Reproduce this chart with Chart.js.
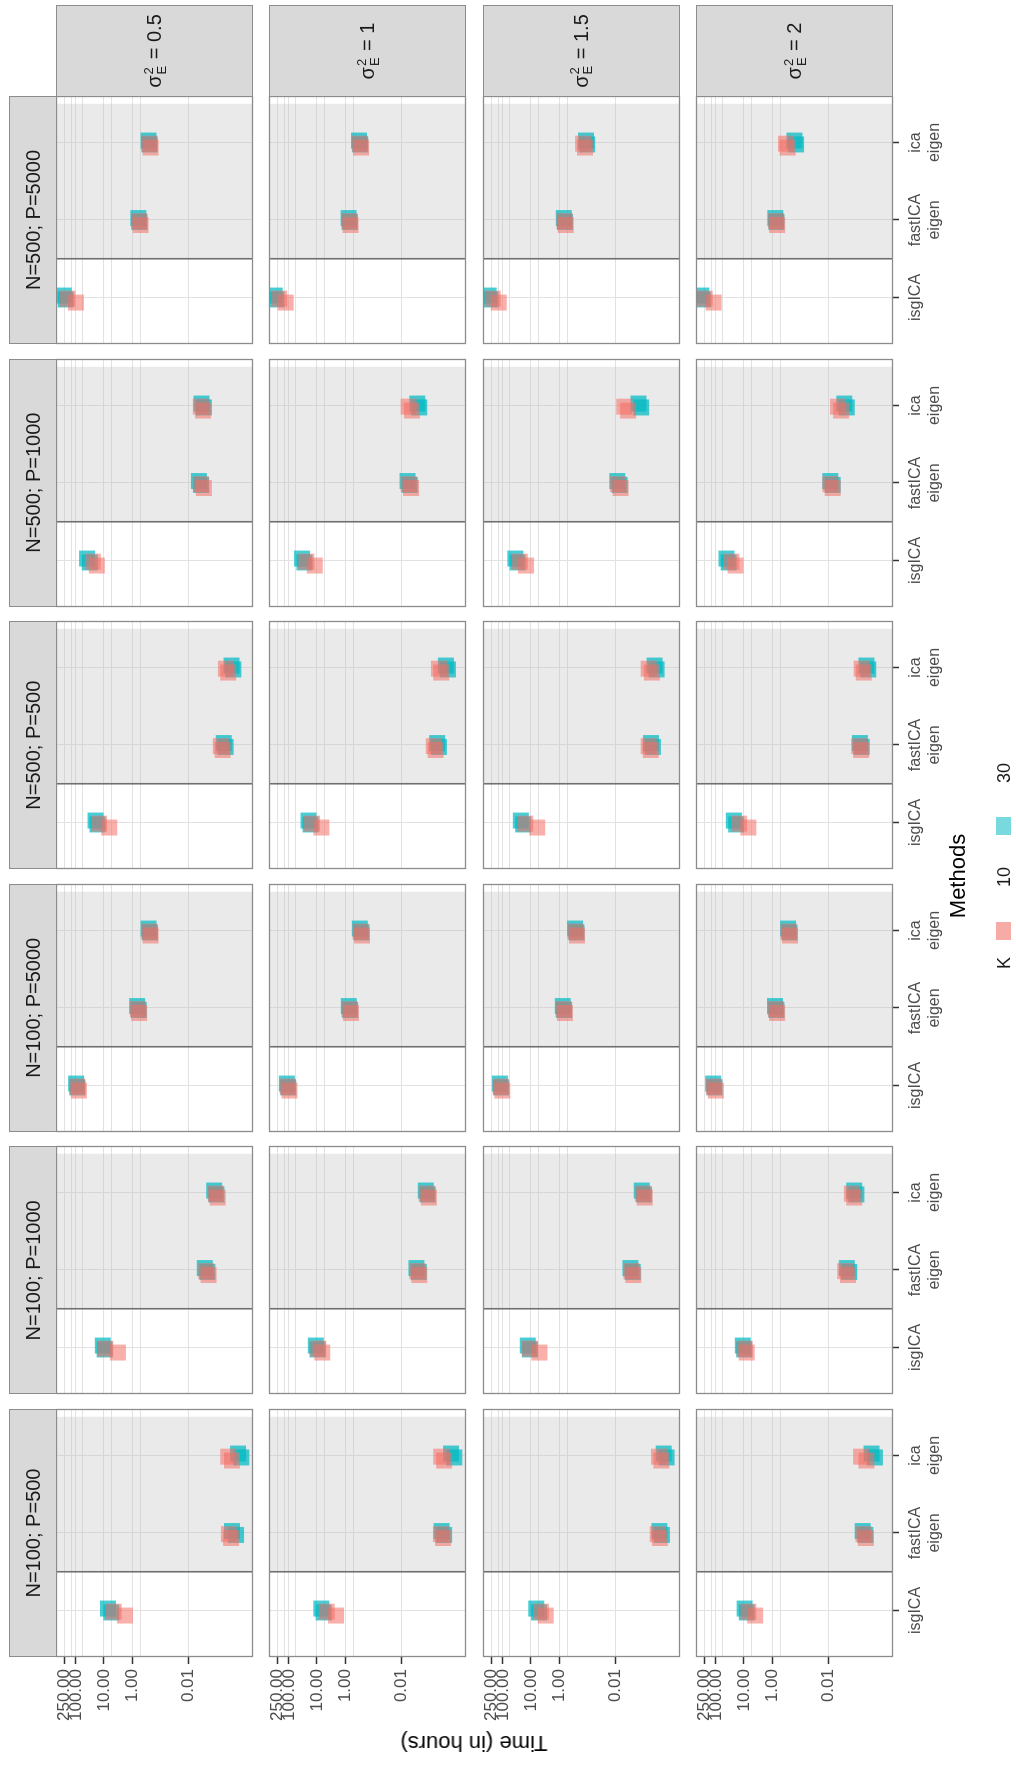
<!DOCTYPE html>
<html>
<head>
<meta charset="utf-8">
<title>Computation time by method</title>
<script src="https://cdn.jsdelivr.net/npm/chart.js@4.4.1/dist/chart.umd.min.js"></script>
<style>
  html, body { margin: 0; padding: 0; background: #ffffff; }
  body { width: 1016px; height: 1769px; overflow: hidden; position: relative;
         font-family: "Liberation Sans", Arial, sans-serif; }
  /* the figure is laid out in landscape and turned a quarter turn */
  #figure { position: absolute; left: 0; top: 0; width: 1769px; height: 1016px;
            transform-origin: 0 0; transform: translateY(1769px) rotate(-90deg); }
  #figure canvas { position: absolute; }
  .strip { position: absolute; box-sizing: border-box; background: #d9d9d9;
           border: 1px solid #8c8c8c; display: flex; align-items: center;
           justify-content: center; color: #1a1a1a; font-size: 20px; white-space: nowrap; }
  .stack { display: inline-flex; flex-direction: column; font-size: 13px;
           line-height: 13px; margin: 0 1px; vertical-align: middle; }
  .title { position: absolute; color: #000; font-size: 22px; white-space: nowrap; }
  .legend-key { position: absolute; width: 18px; height: 15px; }
  .legend-text { position: absolute; font-size: 18px; color: #1a1a1a; white-space: nowrap; }
</style>
</head>
<body>
<div id="figure"></div>
<script>
// ---- categories and tick labels ----
const designs = ['N=100; P=500', 'N=100; P=1000', 'N=100; P=5000',
                 'N=500; P=500', 'N=500; P=1000', 'N=500; P=5000'];
const sigmaLevels = ['0.5', '1', '1.5', '2'];
const methods = ['isgICA', 'fastICA eigen', 'ica eigen'];
const methodTickLabels = [['isgICA'], ['fastICA', 'eigen'], ['ica', 'eigen']];
const timeBreaks = [250, 100, 10, 1, 0.01];
const timeBreakLabels = ['250.00', '100.00', '10.00', '1.00', '0.01'];
const timeGuides = [250, 140, 100, 56, 10, 5.6, 1, 0.52, 0.01];
const kLevels = ['10', '30'];

// ---- run times in hours: [sigma][method][replicate] ----
const hoursK10_N100_P500 = [
  [[4.5, 1.8], [3.6e-4, 3.0e-4], [3.8e-4, 2.8e-4]],
  [[4.5, 2.1], [3.9e-4, 3.3e-4], [3.8e-4, 3.0e-4]],
  [[4.4, 3.0], [3.1e-4, 2.6e-4], [2.8e-4, 2.3e-4]],
  [[7.0, 4.0], [5.6e-4, 4.6e-4], [6.8e-4, 4.4e-4]]
];
const hoursK30_N100_P500 = [
  [[7.2, 5.5], [2.8e-4, 2.0e-4], [1.7e-4, 1.3e-4]],
  [[7.0, 5.8], [3.7e-4, 3.0e-4], [1.7e-4, 1.3e-4]],
  [[6.5, 5.2], [2.7e-4, 2.2e-4], [1.9e-4, 1.5e-4]],
  [[9.5, 8.0], [6.0e-4, 4.8e-4], [2.9e-4, 2.2e-4]]
];
const hoursK10_N100_P1000 = [
  [[9.0, 3.2], [2.3e-3, 1.9e-3], [1.05e-3, 0.9e-3]],
  [[9.0, 6.5], [2.7e-3, 2.3e-3], [1.25e-3, 1.05e-3]],
  [[11, 5.0], [2.7e-3, 2.3e-3], [1.05e-3, 0.9e-3]],
  [[9.5, 8.0], [2.5e-3, 2.0e-3], [1.45e-3, 1.2e-3]]
];
const hoursK30_N100_P1000 = [
  [[11, 9.5], [2.6e-3, 2.1e-3], [1.2e-3, 1.0e-3]],
  [[11, 9.6], [2.9e-3, 2.4e-3], [1.35e-3, 1.15e-3]],
  [[13, 11], [2.9e-3, 2.4e-3], [1.15e-3, 0.95e-3]],
  [[11, 9.8], [2.2e-3, 1.8e-3], [1.2e-3, 1.0e-3]]
];
const hoursK10_N100_P5000 = [
  [[90, 78], [0.62, 0.56], [0.25, 0.22]],
  [[110, 95], [0.70, 0.62], [0.28, 0.25]],
  [[120, 105], [0.70, 0.62], [0.26, 0.23]],
  [[118, 100], [0.74, 0.66], [0.26, 0.23]]
];
const hoursK30_N100_P5000 = [
  [[98, 88], [0.66, 0.58], [0.26, 0.23]],
  [[118, 105], [0.74, 0.66], [0.30, 0.26]],
  [[128, 115], [0.74, 0.66], [0.27, 0.24]],
  [[125, 112], [0.79, 0.70], [0.27, 0.24]]
];
const hoursK10_N500_P500 = [
  [[15, 6.5], [7.0e-4, 6.0e-4], [4.6e-4, 3.8e-4]],
  [[15, 7.0], [7.0e-4, 6.0e-4], [4.6e-4, 3.8e-4]],
  [[16, 6.0], [6.5e-4, 5.5e-4], [6.5e-4, 5.0e-4]],
  [[15, 7.0], [8.0e-4, 6.8e-4], [6.5e-4, 5.5e-4]]
];
const hoursK30_N500_P500 = [
  [[20, 17], [5.5e-4, 4.7e-4], [2.9e-4, 2.5e-4]],
  [[20, 17], [5.3e-4, 4.6e-4], [2.6e-4, 2.2e-4]],
  [[23, 19], [5.4e-4, 4.6e-4], [4.0e-4, 3.4e-4]],
  [[23, 19], [7.5e-4, 6.5e-4], [4.4e-4, 3.8e-4]]
];
const hoursK10_N500_P1000 = [
  [[25, 18], [3.6e-3, 2.8e-3], [3.6e-3, 3.0e-3]],
  [[24, 12], [5.5e-3, 4.5e-3], [5.5e-3, 4.2e-3]],
  [[25, 15], [8.0e-3, 6.5e-3], [4.8e-3, 3.5e-3]],
  [[28, 20], [8.5e-3, 7.0e-3], [4.5e-3, 3.5e-3]]
];
const hoursK30_N500_P1000 = [
  [[40, 32], [4.2e-3, 3.5e-3], [3.4e-3, 2.8e-3]],
  [[34, 28], [6.0e-3, 5.0e-3], [2.7e-3, 2.3e-3]],
  [[36, 30], [8.5e-3, 7.0e-3], [1.5e-3, 1.2e-3]],
  [[42, 35], [8.5e-3, 7.0e-3], [2.7e-3, 2.2e-3]]
];
const hoursK10_N500_P5000 = [
  [[200, 100], [0.56, 0.50], [0.24, 0.22]],
  [[220, 130], [0.70, 0.64], [0.30, 0.27]],
  [[230, 140], [0.64, 0.58], [0.14, 0.12]],
  [[250, 120], [0.72, 0.66], [0.32, 0.28]]
];
const hoursK30_N500_P5000 = [
  [[270, 230], [0.60, 0.55], [0.26, 0.24]],
  [[320, 280], [0.75, 0.68], [0.32, 0.29]],
  [[320, 280], [0.68, 0.62], [0.11, 0.10]],
  [[330, 290], [0.77, 0.70], [0.16, 0.14]]
];

const hoursK10 = [hoursK10_N100_P500, hoursK10_N100_P1000, hoursK10_N100_P5000,
                  hoursK10_N500_P500, hoursK10_N500_P1000, hoursK10_N500_P5000];
const hoursK30 = [hoursK30_N100_P500, hoursK30_N100_P1000, hoursK30_N100_P5000,
                  hoursK30_N500_P500, hoursK30_N500_P1000, hoursK30_N500_P5000];

// ---- look ----
const kColours = ['rgba(244,110,101,0.55)', 'rgba(0,186,194,0.72)'];
const kLegendColours = ['#f7aba6', '#78dadd'];
const kShift = [-0.04, 0];           // small vertical dodge of the K groups
const repShift = [0.025, -0.025];    // replicate spread within a group
const FONT = '"Liberation Sans", Arial, sans-serif';

// panel geometry in the landscape frame
const PANEL_W = 248, PANEL_H = 197;
const COL_X0 = 112, COL_STEP = 262.6;
const ROW_Y0 = 56, ROW_STEP = 213.4;
const LEFT_AXIS = 104, BOTTOM_AXIS = 70;
const MARGIN = 22;                   // spare room around every plotting area

const figure = document.getElementById('figure');

const panelDecor = {
  id: 'panelDecor',
  beforeDatasetsDraw(chart) {
    const { ctx, chartArea: a, scales: { x } } = chart;
    const x0 = x.getPixelForValue(1.5), x1 = x.getPixelForValue(3.5);
    ctx.save();
    ctx.fillStyle = 'rgba(185,185,185,0.3)';
    ctx.fillRect(x0, a.top, x1 - x0, a.bottom - a.top);
    ctx.strokeStyle = '#6f6f6f';
    ctx.lineWidth = 1.6;
    ctx.beginPath();
    ctx.moveTo(x0, a.top);
    ctx.lineTo(x0, a.bottom);
    ctx.stroke();
    ctx.restore();
  },
  afterDatasetsDraw(chart) {
    const { ctx, chartArea: a } = chart;
    ctx.save();
    ctx.strokeStyle = '#8c8c8c';
    ctx.lineWidth = 1.3;
    ctx.strokeRect(a.left + 0.5, a.top + 0.5, a.right - a.left - 1, a.bottom - a.top - 1);
    ctx.restore();
  }
};

function pointsFor(table, k) {
  const pts = [];
  table.forEach((reps, m) => {
    reps.forEach((h, r) => pts.push({ x: m + 1 + kShift[k] + repShift[r], y: h }));
  });
  return pts;
}

function makePanel(c, j) {
  const isLeft = c === 0, isBottom = j === sigmaLevels.length - 1;
  const padL = isLeft ? 0 : MARGIN, padB = isBottom ? 0 : MARGIN;
  const axisL = isLeft ? LEFT_AXIS : 0, axisB = isBottom ? BOTTOM_AXIS : 0;
  const canvas = document.createElement('canvas');
  const w = padL + axisL + PANEL_W + MARGIN;
  const h = MARGIN + PANEL_H + axisB + padB;
  canvas.width = w; canvas.height = h;
  canvas.style.width = w + 'px'; canvas.style.height = h + 'px';
  canvas.style.left = (COL_X0 + c * COL_STEP - axisL - padL) + 'px';
  canvas.style.top = (ROW_Y0 + j * ROW_STEP - MARGIN) + 'px';
  figure.appendChild(canvas);

  new Chart(canvas, {
    type: 'scatter',
    data: {
      datasets: kLevels.map((kl, k) => ({
        label: 'K = ' + kl,
        data: pointsFor((k === 0 ? hoursK10 : hoursK30)[c][j], k),
        pointStyle: 'rect',
        pointRadius: 11.3,
        pointHoverRadius: 11.3,
        pointBorderWidth: 0,
        backgroundColor: kColours[k],
        borderColor: 'rgba(0,0,0,0)'
      }))
    },
    options: {
      responsive: false,
      animation: false,
      events: [],
      layout: { padding: { left: padL, right: MARGIN, top: MARGIN, bottom: padB }, autoPadding: false },
      plugins: { legend: { display: false }, tooltip: { enabled: false } },
      scales: {
        x: {
          type: 'linear', min: 0.4, max: 3.6,
          afterBuildTicks: s => { s.ticks = [1, 2, 3].map(v => ({ value: v })); },
          afterFit: s => { s.height = axisB; },
          border: { display: false },
          grid: { color: '#e2e2e2', lineWidth: 1, drawTicks: isBottom, tickLength: 6,
                  tickColor: '#333333', tickWidth: 1.5 },
          ticks: {
            display: isBottom, autoSkip: false, maxRotation: 0, minRotation: 0, padding: 7,
            color: '#4d4d4d', font: { family: FONT, size: 16, lineHeight: 1.2 },
            callback: v => methodTickLabels[Math.round(v) - 1]
          }
        },
        y: {
          type: 'logarithmic', min: 5.0e-5, max: 510,
          afterBuildTicks: s => { s.ticks = timeGuides.map(v => ({ value: v })); },
          afterFit: s => { s.width = axisL; },
          border: { display: false },
          grid: {
            color: '#e2e2e2', lineWidth: 1, drawTicks: isLeft, tickLength: 7, tickWidth: 1.5,
            tickColor: ctx => (ctx.tick && timeBreaks.includes(ctx.tick.value)) ? '#333333' : 'rgba(0,0,0,0)'
          },
          ticks: {
            display: isLeft, autoSkip: false, padding: 5, color: '#4d4d4d',
            font: { family: FONT, size: 17 },
            callback: v => {
              const i = timeBreaks.indexOf(v);
              return i >= 0 ? timeBreakLabels[i] : '';
            }
          }
        }
      }
    },
    plugins: [panelDecor]
  });
}

function addDiv(cls, left, top, width, height, html) {
  const d = document.createElement('div');
  d.className = cls;
  d.style.left = left + 'px'; d.style.top = top + 'px';
  if (width != null) d.style.width = width + 'px';
  if (height != null) d.style.height = height + 'px';
  d.innerHTML = html;
  figure.appendChild(d);
  return d;
}

// panels
designs.forEach((_, c) => sigmaLevels.forEach((_, j) => makePanel(c, j)));

// design strips along the top
designs.forEach((name, c) => {
  addDiv('strip', COL_X0 + c * COL_STEP, 9, PANEL_W, 48, name);
});

// noise-variance strips on the right
sigmaLevels.forEach((s, j) => {
  addDiv('strip', COL_X0 + 5 * COL_STEP + PANEL_W - 1, ROW_Y0 + j * ROW_STEP, 92, PANEL_H,
    'σ<span class="stack"><span>2</span><span>E</span></span>&nbsp;= ' + s);
});

// axis titles
const yTitle = addDiv('title', 26, 474, null, null, 'Time (in hours)');
yTitle.style.transform = 'translate(-50%, -50%) rotate(-90deg)';
const xTitle = addDiv('title', 893, 958, null, null, 'Methods');
xTitle.style.transform = 'translate(-50%, -50%)';

// legend
const kLabel = addDiv('legend-text', 806, 1004, null, null, 'K');
kLabel.style.transform = 'translate(-50%, -50%)';
const keyCentres = [838, 943], labelCentres = [892, 996];
kLevels.forEach((kl, k) => {
  const key = addDiv('legend-key', keyCentres[k] - 9, 996, null, null, '');
  key.style.background = kLegendColours[k];
  const t = addDiv('legend-text', labelCentres[k], 1004, null, null, kl);
  t.style.transform = 'translate(-50%, -50%)';
});
</script>
</body>
</html>
